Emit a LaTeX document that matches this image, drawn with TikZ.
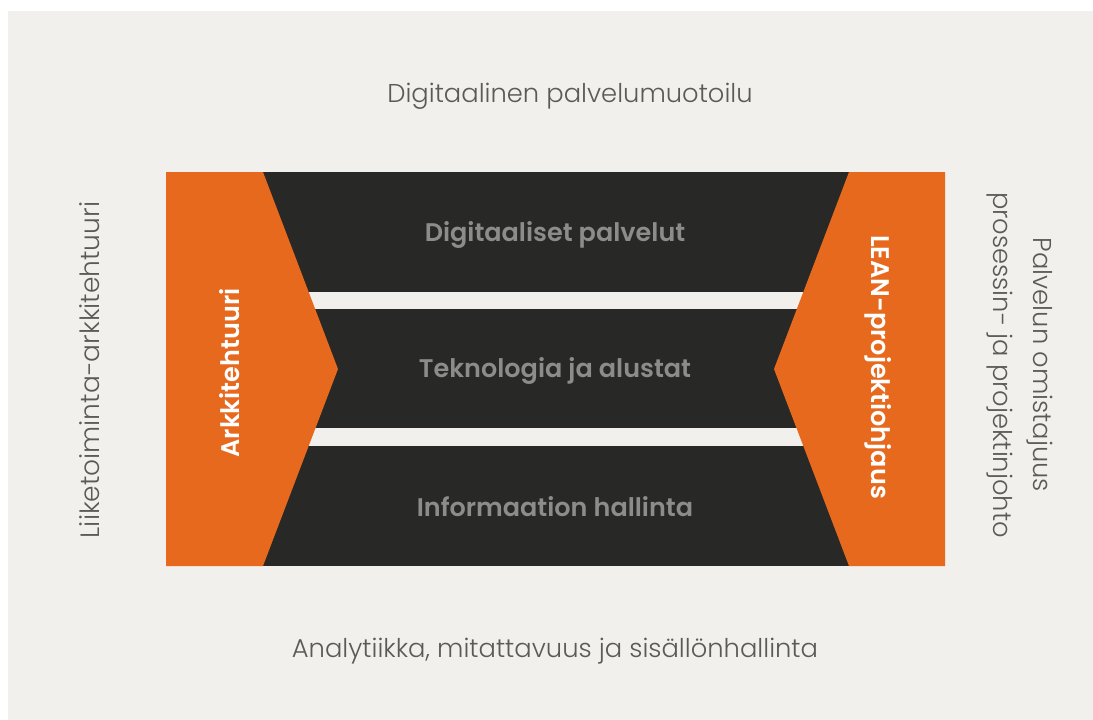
\documentclass[tikz,border=0pt]{standalone}
\usepackage{fontspec}
\setmainfont{Poppins}
\newfontfamily\lightfont{Poppins Light}
\newfontfamily\semifont{Poppins SemiBold}
\definecolor{bg}{HTML}{F1F0EC}
\definecolor{orng}{HTML}{E6691E}
\definecolor{dark}{HTML}{282826}
\definecolor{lighttxt}{HTML}{5A5A58}
\definecolor{bandtxt}{HTML}{8C8C8A}
\tikzset{
  outer/.style={text=lighttxt, font=\lightfont\fontsize{25.8}{40}\selectfont, inner sep=0pt},
  bandlbl/.style={text=bandtxt, font=\semifont\fontsize{25.5}{30}\selectfont, inner sep=0pt},
  sidelbl/.style={text=white, font=\semifont\fontsize{25.5}{30}\selectfont, inner sep=0pt},
  band/.style={fill=dark, draw=none},
  wing/.style={fill=orng, draw=none}
}
\begin{document}
\begin{tikzpicture}[x=1pt,y=-1pt]
\useasboundingbox (0,0) rectangle (1093,720);
\fill[white] (0,0) rectangle (1093,720);
\fill[bg] (8,11) rectangle (1093,720);
% bands
\path[band] (230,172) rectangle (880,292);
\path[band] (230,309) rectangle (880,428);
\path[band] (230,446) rectangle (880,566);
% wings
\path[wing] (166,172) -- (263,172) -- (338,369) -- (263,566) -- (166,566) -- cycle;
\path[wing] (945,172) -- (849,172) -- (774,369) -- (849,566) -- (945,566) -- cycle;
% labels
\node[bandlbl] (b1) at (555,235) {Digitaaliset palvelut};
\node[bandlbl] (b2) at (555,371) {Teknologia ja alustat};
\node[bandlbl] (b3) at (555,507) {Informaation hallinta};
\node[sidelbl, rotate=90] (arch) at (230,373) {Arkkitehtuuri};
\node[sidelbl, rotate=-90] (lean) at (878,367) {LEAN-projektiohjaus};
\node[outer] (top) at (570,96) {Digitaalinen palvelumuotoilu};
\node[outer] (bot) at (555,651) {Analytiikka, mitattavuus ja sisällönhallinta};
\node[outer, rotate=90, font=\lightfont\fontsize{26.5}{40}\selectfont] (left) at (90,370) {Liiketoiminta-arkkitehtuuri};
\node[outer, rotate=-90, align=center] (right) at (1020,365) {Palvelun omistajuus\\prosessin- ja projektinjohto};
\end{tikzpicture}
\end{document}
